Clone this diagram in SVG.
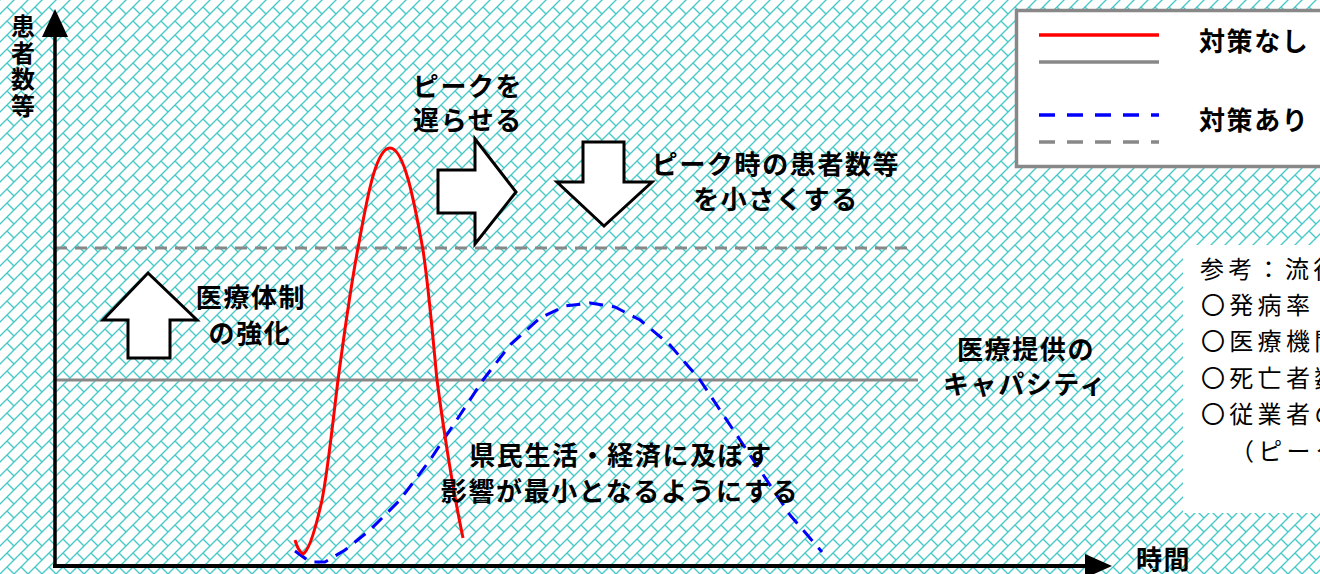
<svg xmlns="http://www.w3.org/2000/svg" width="1320" height="574" viewBox="0 0 1320 574">
<defs>
<pattern id="brick" width="14" height="14" patternUnits="userSpaceOnUse">
<rect width="14" height="14" fill="#fff"/>
<path d="M-1,15 L15,-1 M-1,1 L1,-1 M13,15 L15,13 M7,7 L15,15 M-1,-1 L0,0" stroke="#45c8c8" stroke-width="1.35" fill="none"/>
</pattern>
<style>
.b{font-family:'Noto Sans CJK JP','Noto Sans CJK SC',sans-serif;font-weight:700;font-size:26px;fill:#000;letter-spacing:1.6px}
.n{font-family:'Noto Sans CJK JP','Noto Sans CJK SC',sans-serif;font-weight:400;font-size:24px;fill:#000;letter-spacing:4.3px}
.c{text-anchor:middle}
.v{writing-mode:vertical-rl;font-size:24px;letter-spacing:2.5px}
.blk{fill:#fff;stroke:#000;stroke-width:3;stroke-linejoin:miter}
</style>
</defs>
<rect width="1320" height="574" fill="url(#brick)"/>

<g id="refbox">
<rect x="1183" y="245" width="150" height="268" fill="#fff"/>
<text class="n" x="1200" y="278">参考：流行</text>
<text class="n" x="1201" y="314">〇発病率</text>
<text class="n" x="1201" y="350">〇医療機関</text>
<text class="n" x="1201" y="387">〇死亡者数</text>
<text class="n" x="1201" y="423">〇従業者の</text>
<text class="n" x="1230" y="460">（ピーク</text>
</g>

<g id="legend">
<rect x="1016.5" y="10.5" width="360" height="156" fill="#fff" stroke="#888" stroke-width="3.5"/>
<line x1="1039" y1="35" x2="1159" y2="35" stroke="#f00" stroke-width="3.5"/>
<line x1="1039" y1="62" x2="1159" y2="62" stroke="#888" stroke-width="3.5"/>
<line x1="1039" y1="115" x2="1159" y2="115" stroke="#00f" stroke-width="3.5" stroke-dasharray="16 12"/>
<line x1="1039" y1="142" x2="1159" y2="142" stroke="#888" stroke-width="3.5" stroke-dasharray="16 12"/>
<text class="b" x="1199" y="51">対策なし</text>
<text class="b" x="1199" y="130">対策あり</text>
</g>

<g id="connectors">
<line x1="55" y1="248" x2="914" y2="248" stroke="#888" stroke-width="3" stroke-dasharray="12 8"/>
<line x1="55" y1="380" x2="918" y2="380" stroke="#888" stroke-width="3"/>
<polyline fill="none" stroke="#00f" stroke-width="3" stroke-dasharray="14 9" stroke-linejoin="round" points="295,551 310,562 325,562 345,550 370,530 400,500 430,460 460,415 483,380 510,345 540,318 565,306 590,303 615,307 640,320 670,345 700,380 730,425 760,470 790,515 822,552"/>
<path fill="none" stroke="#f00" stroke-width="3" stroke-linejoin="round" d="M295,540 Q298,551 303,554 C309,551 316,527 322,500 C328,470 333,420 338,380 C344,335 351,285 358,248 C366,205 375,148 390,148 C404,148 414,200 423,250 C429,290 433,340 437,380 C445,440 454,495 463,538"/>
<line x1="55" y1="568" x2="55" y2="30" stroke="#000" stroke-width="3.5"/>
<polygon points="55,9 68,37 42,37" fill="#000"/>
<line x1="53" y1="566" x2="1090" y2="566" stroke="#000" stroke-width="4"/>
<polygon points="1112,566 1085,554 1085,578" fill="#000"/>
</g>

<g id="axis-labels">
<text class="b v" x="23" y="14">患者数等</text>
<text class="b" x="1136" y="569">時間</text>
</g>

<g id="arrow-up">
<polygon class="blk" points="148,273 197,320 170,320 170,358 128,358 128,320 103,320"/>
</g>
<g id="arrow-right">
<polygon class="blk" points="438,170 475,170 475,139 516,192 475,244 475,213 438,213"/>
</g>
<g id="arrow-down">
<polygon class="blk" points="583,142 624,142 624,182 652,182 604,226 557,182 583,182"/>
</g>

<g id="label-delay">
<text class="b c" x="468" y="96">ピークを</text>
<text class="b c" x="468" y="130">遅らせる</text>
</g>
<g id="label-peak">
<text class="b c" x="776" y="174">ピーク時の患者数等</text>
<text class="b c" x="776" y="209">を小さくする</text>
</g>
<g id="label-medical">
<text class="b c" x="251" y="307">医療体制</text>
<text class="b c" x="250" y="343">の強化</text>
</g>
<g id="label-capacity">
<text class="b c" x="1026" y="359">医療提供の</text>
<text class="b c" x="1025" y="394">キャパシティ</text>
</g>
<g id="label-life">
<text class="b c" x="621" y="465">県民生活・経済に及ぼす</text>
<text class="b c" x="620" y="501">影響が最小となるようにする</text>
</g>
</svg>
